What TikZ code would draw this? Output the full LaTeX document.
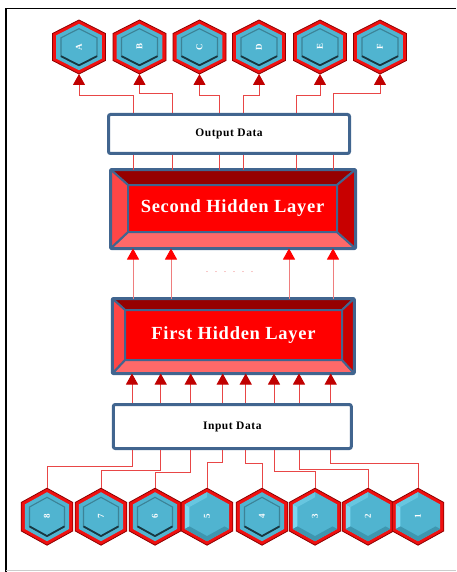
\documentclass[tikz,border=0pt]{standalone}
\usepackage{fontspec}
\setmainfont{Liberation Serif}
\usetikzlibrary{arrows.meta}

\definecolor{boxblue}{RGB}{65,101,143}
\definecolor{bevtop}{RGB}{150,0,0}
\definecolor{bevright}{RGB}{200,0,0}
\definecolor{bevleft}{RGB}{255,70,70}
\definecolor{bevbottom}{RGB}{255,105,105}
\definecolor{facered}{RGB}{255,0,0}
\definecolor{linered}{RGB}{232,70,70}
\definecolor{headred}{RGB}{192,0,0}
\definecolor{hexred}{RGB}{240,16,16}
\definecolor{hexshade}{RGB}{140,0,0}
\definecolor{cellteal}{RGB}{80,180,208}
\definecolor{celllight}{RGB}{125,215,240}
\definecolor{celldark}{RGB}{62,150,175}
\definecolor{cellline}{RGB}{60,130,150}
\definecolor{cellshadow}{RGB}{25,55,65}

\def\hexpath{(0,-1) -- (1,-0.5) -- (1,0.5) -- (0,1) -- (-1,0.5) -- (-1,-0.5) -- cycle}

\tikzset{
  pics/hexin/.style = {code = {
    \filldraw[fill=hexred, draw=hexshade, line width=0.8pt] \hexpath;
    \fill[cellteal, scale=0.86] \hexpath;
    \filldraw[fill=cellteal, draw=cellline, line width=1.1pt, scale=0.68] \hexpath;
    \draw[cellshadow, line width=1.8pt, line join=round] (-0.68,0.34) -- (0,0.68) -- (0.68,0.34);
  }},
  pics/hexup/.style = {code = {
    \filldraw[fill=hexred, draw=hexshade, line width=0.8pt] \hexpath;
    \fill[cellteal, scale=0.86] \hexpath;
    \fill[celllight] (-0.86,-0.43) -- (-0.86,0.43) -- (-0.68,0.34) -- (-0.68,-0.34) -- cycle;
    \fill[celllight!50!cellteal] (0,-0.86) -- (-0.86,-0.43) -- (-0.68,-0.34) -- (0,-0.68) -- cycle;
    \fill[celldark] (-0.86,0.43) -- (0,0.86) -- (0.86,0.43) -- (0.68,0.34) -- (0,0.68) -- (-0.68,0.34) -- cycle;
  }}
}

\begin{document}
\begin{tikzpicture}[x=1pt, y=-1pt,
  databox/.style = {draw=boxblue, line width=3pt, fill=white, rounded corners=2pt, inner sep=0pt,
    font=\bfseries\fontsize{11.5}{13}\selectfont\addfontfeature{LetterSpace=5}},
  layerbox/.style = {inner sep=0pt, outer sep=0pt},
  layerface/.style = {fill=facered, draw=boxblue, line width=2.5pt, inner sep=0pt, outer sep=0pt, text=white,
    font=\bfseries\fontsize{18.5}{20}\selectfont\addfontfeature{LetterSpace=4}},
  bevel/.style = {draw=boxblue, line width=2pt, line join=round},
  hexlabel/.style = {inner sep=0pt, outer sep=0pt, text=white, font=\bfseries\fontsize{9}{9}\selectfont},
  wire/.style = {draw=linered, line width=1pt},
  uparrow/.style = {draw=linered, line width=1pt, -{Triangle[width=12pt,length=11pt,color=headred]}},
  midarrow/.style = {draw=linered!70, line width=1pt, -{Triangle[width=12pt,length=11pt,color=facered]}}
  ]
\useasboundingbox (0,0) rectangle (456,572);

%% frame
\draw[line width=1.5pt] (6,572) -- (6,8.5) -- (456,8.5);
\draw[black!20, line width=1pt] (6,570.5) -- (456,570.5);

%% data boxes
\node[databox, minimum width=241pt, minimum height=39pt] (out) at (229,134) {Output Data};
\node[databox, minimum width=238pt, minimum height=44pt] (inp) at (232.3,426.5) {Input Data};

%% hidden layers
\node[layerbox, minimum width=245pt, minimum height=79pt] (hid2) at (233,209) {};
\node[layerface, minimum width=209pt, minimum height=47pt] (face2) at (232.5,208.5) {Second Hidden Layer};
\node[layerbox, minimum width=242pt, minimum height=75pt] (hid1) at (233.3,336) {};
\node[layerface, minimum width=217pt, minimum height=50pt] (face1) at (233.5,335) {First Hidden Layer};

\foreach \l in {1,2} {
  \fill[bevel, fill=bevtop] (hid\l.north west) -- (hid\l.north east) -- (face\l.north east) -- (face\l.north west) -- cycle;
  \fill[bevel, fill=bevbottom] (hid\l.south west) -- (hid\l.south east) -- (face\l.south east) -- (face\l.south west) -- cycle;
  \fill[bevel, fill=bevleft] (hid\l.north west) -- (hid\l.south west) -- (face\l.south west) -- (face\l.north west) -- cycle;
  \fill[bevel, fill=bevright] (hid\l.north east) -- (hid\l.south east) -- (face\l.south east) -- (face\l.north east) -- cycle;
  \draw[boxblue, line width=3pt, rounded corners=1.5pt] (hid\l.north west) rectangle (hid\l.south east);
}

\node[font=\fontsize{8}{8}\selectfont, text=linered] (gap) at (229.5,272) {.\hspace{7pt}.\hspace{7pt}.\hspace{7pt}.\hspace{7pt}.\hspace{7pt}.};

%% output cells
\foreach \name/\x in {A/79, B/139.5, C/199.5, D/259, E/320, F/380} {
  \pic[xscale=26.5, yscale=27] at (\x,47) {hexin};
  \node[hexlabel, minimum width=53pt, minimum height=54pt] (o\name) at (\x,47) {\rotatebox{90}{\name}};
}

%% input cells
\foreach \n/\x in {8/47, 7/101, 6/155, 4/262} {
  \pic[xscale=25.8, yscale=28.5] at (\x,516.7) {hexin};
  \node[hexlabel, minimum width=51.6pt, minimum height=57pt] (i\n) at (\x,516.7) {\rotatebox{90}{\n}};
}
\foreach \n/\x in {5/207, 3/315, 2/368, 1/418} {
  \pic[xscale=25.8, yscale=28.5] at (\x,516.7) {hexup};
  \node[hexlabel, minimum width=51.6pt, minimum height=57pt] (i\n) at (\x,516.7) {\rotatebox{90}{\n}};
}

%% output data to cells
\foreach \x/\y/\c in {133/96/A, 172.7/94/B, 219/96/C, 243/96/D, 296/96/E, 333/94/F} {
  \draw[uparrow] (out.north -| \x,0) -- (\x,\y) -| (o\c.south);
}
\foreach \x in {133, 172.7, 219, 243, 296, 333}
  \draw[wire] (hid2.north -| \x,0) -- (out.south -| \x,0);

%% first to second layer
\foreach \x in {133, 171, 289, 333}
  \draw[midarrow] (hid1.north -| \x,0) -- (hid2.south -| \x,0);

%% input data to first layer
\foreach \x in {132, 160.7, 190.7, 222.7, 245.7, 274, 299, 330.7}
  \draw[uparrow] (inp.north -| \x,0) -- (hid1.south -| \x,0);

%% cells to input data
\foreach \x/\y/\c in {132/466.7/8, 160.7/470/7, 190.7/472/6, 222.7/462/5, 245.7/463/4, 274/471/3, 299/469/2, 330.7/463/1} {
  \draw[wire] (inp.south -| \x,0) -- (\x,\y) -| (i\c.north);
}

\end{tikzpicture}
\end{document}
